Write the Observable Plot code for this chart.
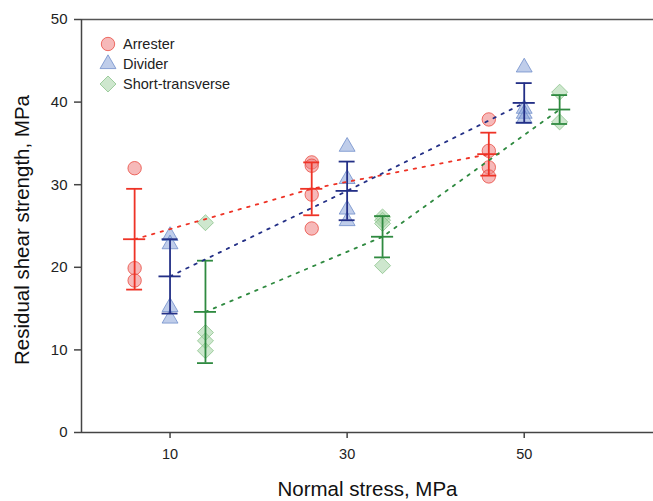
<!DOCTYPE html>
<html>
<head>
<meta charset="utf-8">
<script src="https://cdn.jsdelivr.net/npm/d3@7"></script>
<script src="https://cdn.jsdelivr.net/npm/@observablehq/plot@0.6"></script>
<style>
  body { margin: 0; background: #fff; }
  #chart { position: relative; width: 653px; height: 501px; font-family: "Liberation Sans", Arial, sans-serif; }
  #legend { position: absolute; left: 99px; top: 34px; font-size: 14.5px; color: #222; }
  .row { display: flex; align-items: center; height: 20px; }
  .row svg { margin-right: 6px; }
</style>
</head>
<body>
<div id="chart"></div>
<script>
// ---- data ----
const seriesNames = ["Arrester", "Divider", "Short-transverse"];
const xTicks = [10, 30, 50];
const yTicks = [0, 10, 20, 30, 40, 50];

const arresterX = [6, 26, 46];
const arresterPoints = [[32.0, 19.9, 18.4], [32.7, 32.3, 28.8, 24.7], [37.9, 34.1, 32.1, 31.0]];
const arresterMean = [23.4, 29.5, 33.7];
const arresterErr = [6.1, 3.2, 2.6];

const dividerX = [10, 30, 50];
const dividerPoints = [[23.8, 22.8, 15.2, 13.8], [34.6, 30.7, 27.0, 25.6], [44.2, 39.2, 38.6, 38.0]];
const dividerMean = [18.9, 29.25, 39.9];
const dividerErr = [4.5, 3.55, 2.4];

const shortX = [14, 34, 54];
const shortPoints = [[25.4, 12.1, 11.1, 9.9], [26.1, 25.7, 25.3, 20.2], [41.2, 37.6]];
const shortMean = [14.6, 23.7, 39.1];
const shortErr = [6.2, 2.5, 1.75];

// ---- styles ----
const styles = {
  "Arrester":         {symbol: "circle",   r: 6.7, fill: "#ef8080", stroke: "#e8443a", line: "#ee3326"},
  "Divider":          {symbol: "triangle", r: 5.9, fill: "#8aa4d8", stroke: "#6b8ac8", line: "#232f86"},
  "Short-transverse": {symbol: "diamond2", r: 7.2, fill: "#a5d3a5", stroke: "#86c086", line: "#2f8a40"}
};

const raw = [
  [seriesNames[0], arresterX, arresterPoints, arresterMean, arresterErr],
  [seriesNames[1], dividerX, dividerPoints, dividerMean, dividerErr],
  [seriesNames[2], shortX, shortPoints, shortMean, shortErr]
];

const capHalf = 0.9, meanHalf = 1.25;
const marks = [
  Plot.ruleY([50], {stroke: "#555", strokeWidth: 1.5}),
];

for (const [name, xs, pts, means, errs] of raw) {
  const st = styles[name];
  const points = xs.flatMap((x, i) => pts[i].map(v => ({x, y: v})));
  const stats = xs.map((x, i) => ({x, mean: means[i], err: errs[i]}));
  marks.push(
    Plot.dot(points, {x: "x", y: "y", symbol: () => st.symbol, r: st.r, fill: st.fill, fillOpacity: 0.55, stroke: st.stroke, strokeOpacity: 0.75, strokeWidth: 1})
  );
  marks.push(
    Plot.ruleX(stats, {x: "x", y1: d => d.mean - d.err, y2: d => d.mean + d.err, stroke: st.line, strokeWidth: 1.8}),
    Plot.ruleY(stats, {y: d => d.mean + d.err, x1: d => d.x - capHalf, x2: d => d.x + capHalf, stroke: st.line, strokeWidth: 1.8}),
    Plot.ruleY(stats, {y: d => d.mean - d.err, x1: d => d.x - capHalf, x2: d => d.x + capHalf, stroke: st.line, strokeWidth: 1.8}),
    Plot.ruleY(stats, {y: "mean", x1: d => d.x - meanHalf, x2: d => d.x + meanHalf, stroke: st.line, strokeWidth: 1.8})
  );
}
for (const [name, xs, pts, means] of raw) {
  const st = styles[name];
  const stats = xs.map((x, i) => ({x, mean: means[i]}));
  marks.push(Plot.line(stats, {x: "x", y: "mean", stroke: st.line, strokeWidth: 1.8, strokeDasharray: "2.5,6.5"}));
}

marks.push(
  Plot.ruleX([0], {stroke: "#444", strokeWidth: 1.5}),
  Plot.ruleY([0], {stroke: "#444", strokeWidth: 1.5}),
  Plot.axisY({ticks: yTicks, tickSize: 7, tickPadding: 7, fontSize: 15, label: null, stroke: "#444", strokeWidth: 1.5, tickFormat: d3.format("d")}),
  Plot.axisX({ticks: xTicks, tickSize: 6, tickPadding: 10, fontSize: 14.5, label: null, stroke: "#444", strokeWidth: 1.5, tickFormat: d3.format("d")}),
  Plot.text(["Residual shear strength, MPa"], {frameAnchor: "left", textAnchor: "middle", rotate: -90, dx: -59, dy: 4, fontSize: 20.5, fill: "#111"}),
  Plot.text(["Normal stress, MPa"], {frameAnchor: "bottom", dy: 63, fontSize: 20.5, fill: "#111"})
);

const chart = Plot.plot({
  width: 653,
  height: 501,
  marginTop: 19,
  marginRight: 0,
  marginBottom: 69,
  marginLeft: 81,
  x: {domain: [0, 64.6]},
  y: {domain: [0, 50]},
  style: {fontFamily: "'Liberation Sans', Arial, sans-serif", color: "#222", background: "#fff", overflow: "visible"},
  marks
});

const container = document.getElementById("chart");
container.appendChild(chart);

// legend
const legend = document.createElement("div");
legend.id = "legend";
for (const name of seriesNames) {
  const st = styles[name];
  const row = document.createElement("div");
  row.className = "row";
  const sym = d3.symbol(st.symbol === "circle" ? d3.symbolCircle : st.symbol === "triangle" ? d3.symbolTriangle : d3.symbolDiamond2, Math.PI * st.r * st.r)();
  row.innerHTML = `<svg width="18" height="20"><path transform="translate(9,10)" d="${sym}" fill="${st.fill}" fill-opacity="0.55" stroke="${st.stroke}" stroke-opacity="0.75"></path></svg><span>${name}</span>`;
  legend.appendChild(row);
}
container.appendChild(legend);
</script>
</body>
</html>
